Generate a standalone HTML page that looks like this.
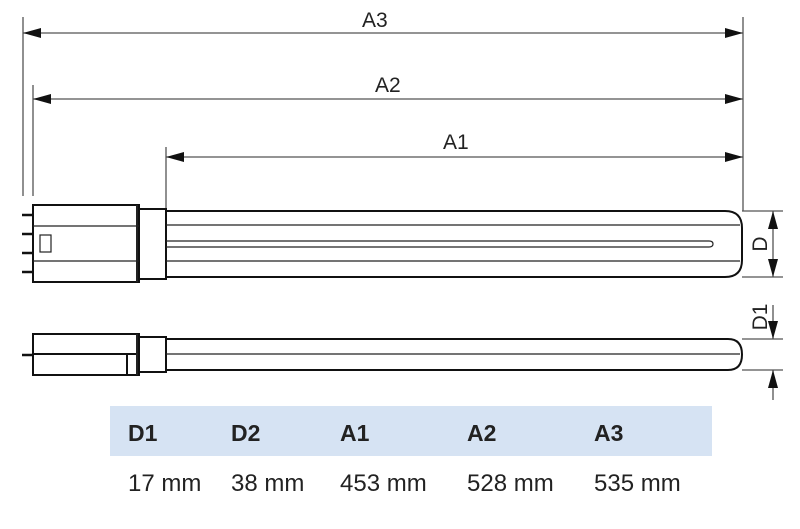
<!DOCTYPE html>
<html><head><meta charset="utf-8"><style>
body{margin:0;background:#fff;width:800px;height:529px;overflow:hidden}
svg{display:block}
text{font-family:"Liberation Sans","DejaVu Sans",sans-serif;fill:#222}
</style></head><body>
<svg width="800" height="529" viewBox="0 0 800 529">
<defs>
<marker id="ar" markerWidth="18" markerHeight="10" refX="18" refY="5" orient="auto-start-reverse" markerUnits="userSpaceOnUse">
<path d="M0,0 L18,5 L0,10 Z" fill="#111"/></marker>
</defs>
<g stroke="#555" stroke-width="1.3" fill="none">
<line x1="23" y1="17" x2="23" y2="196"/>
<line x1="33" y1="85" x2="33" y2="196"/>
<line x1="166" y1="147" x2="166" y2="209"/>
<line x1="743" y1="17" x2="743" y2="211"/>
</g>
<g stroke="#555" stroke-width="1.3">
<line x1="23" y1="33" x2="743" y2="33" marker-start="url(#ar)" marker-end="url(#ar)"/>
<line x1="33" y1="99" x2="743" y2="99" marker-start="url(#ar)" marker-end="url(#ar)"/>
<line x1="166" y1="157" x2="743" y2="157" marker-start="url(#ar)" marker-end="url(#ar)"/>
</g>
<text x="362" y="27" font-size="21">A3</text>
<text x="375" y="92" font-size="21">A2</text>
<text x="443" y="149" font-size="21">A1</text>

<g stroke="#111" stroke-width="2" fill="#fff">
<path d="M166,211 H725 Q742,211 742,228 V260 Q742,277 725,277 H166"/>
<rect x="139" y="209" width="27" height="70"/>
<rect x="33" y="205" width="106" height="77"/>
<g stroke-width="2.5">
<line x1="22" y1="215" x2="33" y2="215"/><line x1="22" y1="234" x2="33" y2="234"/>
<line x1="22" y1="253" x2="33" y2="253"/><line x1="22" y1="272" x2="33" y2="272"/>
</g>
</g>
<g stroke="#222" stroke-width="1.2" fill="none">
<line x1="33" y1="226" x2="139" y2="226"/><line x1="33" y1="261" x2="139" y2="261"/>
<rect x="40" y="235" width="11" height="17"/>
<line x1="137" y1="205" x2="137" y2="282" stroke-width="2"/>
<line x1="166" y1="225" x2="740" y2="225"/><line x1="166" y1="261" x2="740" y2="261"/>
<path d="M166,241 H709 Q713,241 713,244 Q713,247 709,247 H166"/>
</g>
<g stroke="#111" stroke-width="2" fill="#fff">
<path d="M166,339 H728 Q742,339 742,354.5 Q742,370 728,370 H166"/>
<rect x="139" y="337" width="27" height="35"/>
<rect x="33" y="334" width="106" height="41"/>
<line x1="22" y1="355" x2="33" y2="355" stroke-width="2.5"/>
<line x1="33" y1="354" x2="139" y2="354"/>
<line x1="127" y1="354" x2="127" y2="375"/>
</g>
<g stroke="#222" stroke-width="1.2"><line x1="166" y1="354" x2="740" y2="354"/>
<line x1="137" y1="334" x2="137" y2="375" stroke-width="2"/></g>
<g stroke="#555" stroke-width="1.3">
<line x1="742" y1="211" x2="783" y2="211"/><line x1="742" y1="277" x2="783" y2="277"/>
<line x1="773" y1="211" x2="773" y2="277" marker-start="url(#ar)" marker-end="url(#ar)"/>
<line x1="742" y1="339" x2="783" y2="339"/><line x1="742" y1="370" x2="783" y2="370"/>
<line x1="773" y1="305" x2="773" y2="339" marker-end="url(#ar)"/>
<line x1="773" y1="400" x2="773" y2="370" marker-end="url(#ar)"/>
</g>
<text transform="translate(767,244) rotate(-90)" font-size="21" text-anchor="middle">D</text>
<text transform="translate(767,317) rotate(-90)" font-size="21" text-anchor="middle">D1</text>
<rect x="110" y="406" width="602" height="50" fill="#d6e3f3"/>
<g font-size="23" font-weight="bold">
<text x="128" y="441">D1</text><text x="231" y="441">D2</text><text x="340" y="441">A1</text>
<text x="467" y="441">A2</text><text x="594" y="441">A3</text>
</g>
<g font-size="24" fill="#333">
<text x="128" y="491">17 mm</text><text x="231" y="491">38 mm</text><text x="340" y="491">453 mm</text>
<text x="467" y="491">528 mm</text><text x="594" y="491">535 mm</text>
</g>
</svg>
</body></html>
